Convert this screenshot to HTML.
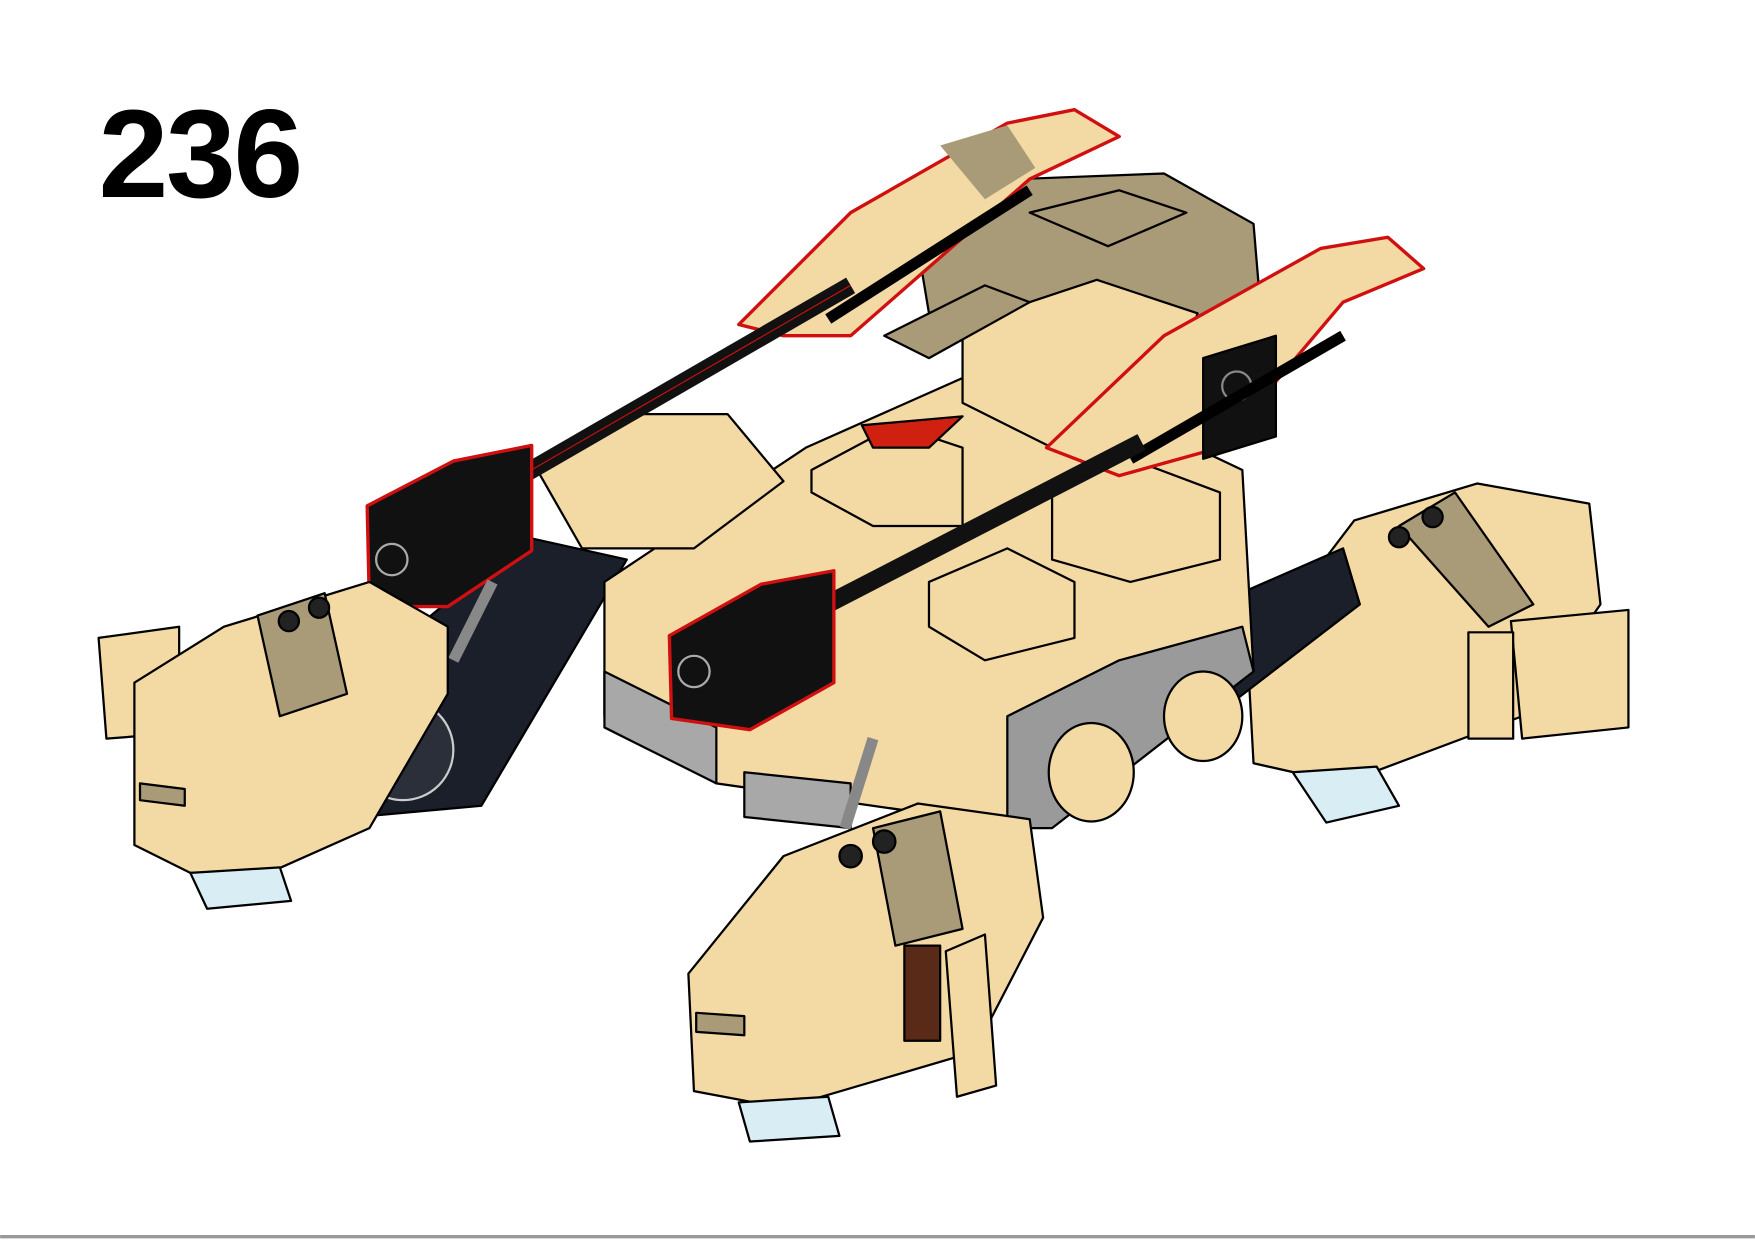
<!DOCTYPE html>
<html><head><meta charset="utf-8"><style>
html,body{margin:0;padding:0;background:#fff;}
svg{display:block;}
</style></head><body>
<svg width="1755" height="1240" viewBox="0 0 1568 1108" xmlns="http://www.w3.org/2000/svg" stroke="#000" stroke-width="2" stroke-linejoin="round">
<rect x="0" y="0" width="1568" height="1108" fill="#fff" stroke="none"/>
<line x1="0" y1="1105" x2="1568" y2="1105" stroke="#999" stroke-width="3"/>
<text x="88" y="176" font-family="Liberation Sans, sans-serif" font-weight="bold" font-size="112" letter-spacing="-2" fill="#000" stroke="none">236</text>

<!-- rear right pod -->
<polygon points="1115,590 1210,465 1320,432 1420,450 1430,540 1360,640 1200,700 1120,682" fill="#f3d9a4"/>
<polygon points="1250,470 1300,440 1370,540 1330,560" fill="#a99a78"/>
<polygon points="1155,690 1230,685 1250,720 1185,735" fill="#d8eef4"/>
<polygon points="1350,555 1455,545 1455,650 1360,660" fill="#f3d9a4"/>
<rect x="1312" y="565" width="40" height="95" fill="#f3d9a4"/>

<!-- right track -->
<polygon points="1040,560 1200,490 1215,540 1085,640" fill="#1b1f2a"/>

<!-- left track -->
<polygon points="300,620 470,480 560,500 430,720 320,730" fill="#1b1f2a"/>
<circle cx="360" cy="670" r="45" fill="#2a2f3a" stroke="#ccc"/>

<!-- central body -->
<polygon points="540,520 720,400 900,320 1110,420 1120,600 920,740 640,700 540,640" fill="#f3d9a4"/>
<polygon points="540,600 640,650 640,700 540,650" fill="#a8a8a8"/>
<polygon points="665,690 760,700 760,740 665,730" fill="#a8a8a8"/>
<polygon points="900,640 1000,590 1110,560 1120,600 940,740 900,740" fill="#9a9a9a"/>
<polygon points="725,420 800,380 860,400 860,470 780,470 725,440" fill="#f3d9a4"/>
<polygon points="770,380 860,372 830,400 780,400" fill="#d02010"/>
<polygon points="480,420 560,370 650,370 700,430 620,490 520,490" fill="#f3d9a4"/>
<polygon points="830,520 900,490 960,520 960,570 880,590 830,560" fill="#f3d9a4"/>
<polygon points="940,440 1010,410 1090,440 1090,500 1010,520 940,500" fill="#f3d9a4"/>

<!-- turret -->
<polygon points="820,220 910,160 1040,155 1120,200 1125,260 1000,320 830,280" fill="#a99a78"/>
<polygon points="860,290 980,250 1070,280 1050,340 940,400 860,360" fill="#f3d9a4"/>
<polygon points="790,300 880,255 920,270 830,320" fill="#a99a78"/>
<polygon points="920,190 1000,170 1060,190 990,220" fill="#a99a78"/>

<!-- upper-left wing -->
<polygon points="660,290 760,190 900,110 960,98 1000,122 920,160 760,300 700,300" fill="#f3d9a4" stroke="#d01010" stroke-width="3"/>
<polygon points="840,130 900,112 925,150 880,178" fill="#a99a78" stroke="none"/>
<line x1="740" y1="285" x2="920" y2="170" stroke="#000" stroke-width="10"/>
<!-- right wing -->
<polygon points="935,400 1040,300 1180,222 1240,212 1272,240 1200,270 1090,400 1000,425" fill="#f3d9a4" stroke="#d01010" stroke-width="3"/>
<polygon points="1075,320 1140,300 1140,390 1075,410" fill="#111"/>
<circle cx="1105" cy="345" r="13" fill="#111" stroke="#888"/>
<line x1="1010" y1="410" x2="1200" y2="300" stroke="#000" stroke-width="10"/>

<!-- black bars -->
<line x1="440" y1="440" x2="760" y2="255" stroke="#111" stroke-width="16"/>
<line x1="710" y1="555" x2="1020" y2="395" stroke="#111" stroke-width="16"/>
<line x1="440" y1="440" x2="760" y2="255" stroke="#d01010" stroke-width="1"/>

<!-- black blocks -->
<polygon points="328,452 405,412 475,398 475,492 400,542 330,542" fill="#111" stroke="#d01010" stroke-width="3"/>
<circle cx="350" cy="500" r="14" fill="#111" stroke="#aaa"/>
<polygon points="598,568 680,522 745,510 745,610 670,652 600,642" fill="#111" stroke="#d01010" stroke-width="3"/>
<circle cx="620" cy="600" r="14" fill="#111" stroke="#aaa"/>

<!-- wheels -->
<ellipse cx="975" cy="690" rx="38" ry="44" fill="#f3d9a4"/>
<ellipse cx="1075" cy="640" rx="35" ry="40" fill="#f3d9a4"/>

<!-- gray pistons -->
<line x1="440" y1="520" x2="405" y2="590" stroke="#888" stroke-width="10"/>
<line x1="780" y1="660" x2="755" y2="740" stroke="#888" stroke-width="10"/>

<!-- left pod -->
<polygon points="88,570 160,560 160,655 95,660" fill="#f3d9a4"/>
<polygon points="120,610 200,560 330,520 400,560 400,620 330,740 240,780 170,780 120,755" fill="#f3d9a4"/>
<polygon points="230,550 290,530 310,620 250,640" fill="#a99a78"/>
<polygon points="125,700 165,705 165,720 125,715" fill="#a99a78"/>
<polygon points="170,780 250,775 260,805 185,812" fill="#d8eef4"/>

<!-- front pod -->
<polygon points="615,870 700,765 820,718 920,732 932,820 870,940 700,990 620,975" fill="#f3d9a4"/>
<polygon points="780,740 840,725 860,830 800,845" fill="#a99a78"/>
<polygon points="622,905 665,908 665,925 622,922" fill="#a99a78"/>
<rect x="808" y="845" width="32" height="85" fill="#5a2a18"/>
<polygon points="845,850 880,835 890,970 855,980" fill="#f3d9a4"/>
<polygon points="660,985 740,980 750,1015 670,1020" fill="#d8eef4"/>
<circle cx="760" cy="765" r="10" fill="#222"/>
<circle cx="790" cy="752" r="10" fill="#222"/>
<circle cx="258" cy="555" r="9" fill="#222"/>
<circle cx="285" cy="543" r="9" fill="#222"/>
<circle cx="1250" cy="480" r="9" fill="#222"/>
<circle cx="1280" cy="462" r="9" fill="#222"/>
</svg>
</body></html>
